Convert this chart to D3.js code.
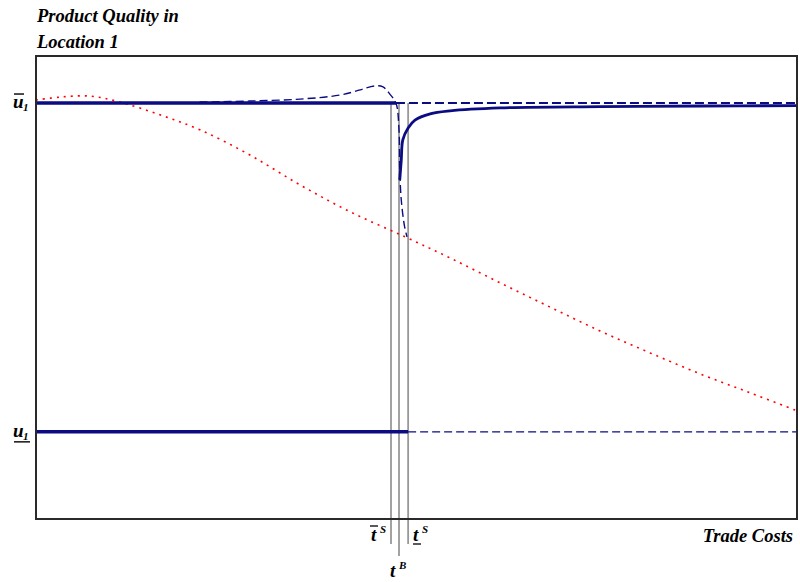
<!DOCTYPE html>
<html>
<head>
<meta charset="utf-8">
<script src="https://cdn.jsdelivr.net/npm/d3@7"></script>
<style>
  body { margin: 0; background: #fff; }
  text { font-family: "Liberation Serif", "DejaVu Serif", serif; font-weight: bold; font-style: italic; }
</style>
</head>
<body>
<div id="chart"></div>
<script>
// trade costs run 0..100, quality: u1 (low) = 0, u1 bar (high) = 1
var redT = [0, 3.15, 7.1, 11.0, 16.3, 21.6, 28.1, 34.7, 41.3, 48.5, 54.4, 61.0, 67.5, 74.1, 80.7, 87.3, 93.8, 100];
var redQ = [1.009, 1.018, 1.021, 1.003, 0.964, 0.918, 0.842, 0.751, 0.669, 0.593, 0.529, 0.453, 0.380, 0.307, 0.240, 0.176, 0.119, 0.064];

var unstableT = [21.5, 28.1, 34.7, 39.9, 42.6, 44.5, 45.6, 46.5, 47.3, 47.7, 47.8, 48.0, 48.4, 48.75];
var unstableQ = [1.003, 1.006, 1.012, 1.024, 1.040, 1.052, 1.049, 1.027, 1.0, 0.918, 0.796, 0.705, 0.629, 0.593];

var stableT = [47.8, 48.0, 48.2, 48.9, 49.8, 51.8, 54.4, 61, 74.1, 87.3, 100];
var stableQ = [0.766, 0.827, 0.888, 0.924, 0.948, 0.967, 0.976, 0.985, 0.989, 0.991, 0.992];

var highQ = 1, lowQ = 0;
var tSbar = 46.65, tB = 47.7, tSlow = 48.9, tHighBreak = 47.3;

var cfg = { w: 800, h: 582, left: 36, right: 797, top: 56, bottom: 519 };
var navy = "#0b0b82";

var x = d3.scaleLinear().domain([0, 100]).range([cfg.left, cfg.right]);
var y = d3.scaleLinear().domain([-0.265, 1.143]).range([cfg.bottom, cfg.top]);

var svg = d3.select("#chart").append("svg")
    .attr("width", cfg.w)
    .attr("height", cfg.h);

var line = d3.line()
    .x(function(d) { return x(d[0]); })
    .y(function(d) { return y(d[1]); })
    .curve(d3.curveCatmullRom);

// vertical markers
var vlines = [
    { t: tSbar, y2: 544 },
    { t: tB, y2: 556 },
    { t: tSlow, y2: 544 }
];
svg.selectAll(".vline")
    .data(vlines)
    .enter()
    .append("line")
    .attr("class", "vline")
    .attr("x1", function(d) { return x(d.t); })
    .attr("x2", function(d) { return x(d.t); })
    .attr("y1", y(highQ))
    .attr("y2", function(d) { return d.y2; })
    .attr("stroke", "#999")
    .attr("stroke-width", 1.8);

// red dotted
svg.append("path")
    .datum(d3.zip(redT, redQ))
    .attr("d", line)
    .attr("fill", "none")
    .attr("stroke", "#f00")
    .attr("stroke-width", 1.6)
    .attr("stroke-dasharray", "2,5");

// high level lines
svg.append("line")
    .attr("x1", x(0)).attr("x2", x(tHighBreak))
    .attr("y1", y(highQ)).attr("y2", y(highQ))
    .attr("stroke", navy).attr("stroke-width", 3.5);
svg.append("line")
    .attr("x1", x(tHighBreak)).attr("x2", x(100))
    .attr("y1", y(highQ)).attr("y2", y(highQ))
    .attr("stroke", navy).attr("stroke-width", 1.8)
    .attr("stroke-dasharray", "9,4");

// low level lines
svg.append("line")
    .attr("x1", x(0)).attr("x2", x(tSlow))
    .attr("y1", y(lowQ)).attr("y2", y(lowQ))
    .attr("stroke", navy).attr("stroke-width", 3.5);
svg.append("line")
    .attr("x1", x(tSlow)).attr("x2", x(100))
    .attr("y1", y(lowQ)).attr("y2", y(lowQ))
    .attr("stroke", navy).attr("stroke-width", 1.2)
    .attr("stroke-dasharray", "8,4");

// unstable branch (dashed) and stable branch (solid)
svg.append("path")
    .datum(d3.zip(unstableT, unstableQ))
    .attr("d", line)
    .attr("fill", "none")
    .attr("stroke", navy)
    .attr("stroke-width", 1.4)
    .attr("stroke-dasharray", "8,4");

svg.append("path")
    .datum(d3.zip(stableT, stableQ))
    .attr("d", line)
    .attr("fill", "none")
    .attr("stroke", navy)
    .attr("stroke-width", 2.8);

// frame
svg.append("rect")
    .attr("x", cfg.left).attr("y", cfg.top)
    .attr("width", cfg.right - cfg.left)
    .attr("height", cfg.bottom - cfg.top)
    .attr("fill", "none")
    .attr("stroke", "#2a2a2a")
    .attr("stroke-width", 2);

// titles
svg.append("text").attr("x", 37).attr("y", 22).style("font-size", "18.5px").text("Product Quality in");
svg.append("text").attr("x", 37).attr("y", 48).style("font-size", "18.5px").text("Location 1");
svg.append("text").attr("x", 793).attr("y", 542).attr("text-anchor", "end").style("font-size", "18.5px").text("Trade Costs");

// y labels
function uLabel(yy, over) {
    var g = svg.append("g").attr("transform", "translate(13," + yy + ")");
    g.append("text").attr("x", 0).attr("y", 5).style("font-size", "19px").text("u");
    g.append("text").attr("x", 10).attr("y", 8).style("font-size", "11px").text("1");
    g.append("line")
        .attr("x1", 1).attr("x2", over ? 11 : 17)
        .attr("y1", over ? -9 : 10).attr("y2", over ? -9 : 10)
        .attr("stroke", "#000").attr("stroke-width", 1.4);
}
uLabel(y(highQ), true);
uLabel(y(lowQ), false);

// t labels
function tLabel(px, py, sup, bar) {
    var g = svg.append("g").attr("transform", "translate(" + px + "," + py + ")");
    g.append("text").attr("x", 0).attr("y", 0).style("font-size", "19px").text("t");
    g.append("text").attr("x", 9).attr("y", -8).style("font-size", "11px").text(sup);
    if (bar === "over") {
        g.append("line").attr("x1", -1).attr("x2", 7).attr("y1", -15).attr("y2", -15)
            .attr("stroke", "#000").attr("stroke-width", 1.3);
    } else if (bar === "under") {
        g.append("line").attr("x1", 0).attr("x2", 8).attr("y1", 3).attr("y2", 3)
            .attr("stroke", "#000").attr("stroke-width", 1.3);
    }
}
tLabel(371, 541, "S", "over");
tLabel(390, 577, "B", null);
tLabel(413, 541, "S", "under");
</script>
</body>
</html>
